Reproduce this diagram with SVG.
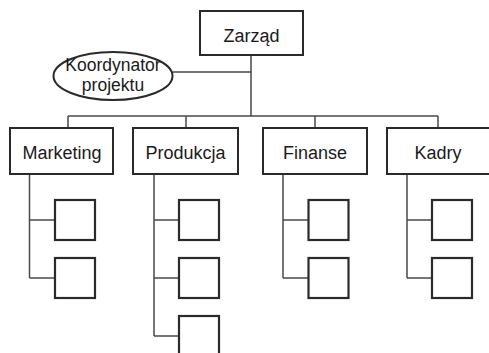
<svg xmlns="http://www.w3.org/2000/svg" width="489" height="353" viewBox="0 0 489 353">
<style>
.box{fill:#fff;stroke:#2a2a2a;stroke-width:2}
.sub{fill:#fff;stroke:#2a2a2a;stroke-width:2.2}
.ln{fill:none;stroke:#4a4a4a;stroke-width:1.5}
text{font-family:"Liberation Sans",Arial,sans-serif;font-size:18px;fill:#1a1a1a;text-anchor:middle}
.el{font-size:17.5px}
</style>
<rect width="489" height="353" fill="#fff"/>
<g id="connectors">
<path class="ln" d="M251 55V116M172.5 72H251M68 116H438M68 116V128M186 116V128M315 116V128M438 116V128"/>
<path class="ln" d="M29.5 174V278M29.5 220H55M29.5 278H55"/>
<path class="ln" d="M154 174V336M154 220H179M154 278H179M154 336H179"/>
<path class="ln" d="M283 174V278M283 220H308.5M283 278H308.5"/>
<path class="ln" d="M407 174V278M407 220H432M407 278H432"/>
</g>
<g id="zarzad"><rect class="box" x="200" y="11" width="103" height="44"/><text x="251.5" y="42">Zarząd</text></g>
<g id="koordynator"><ellipse class="box" cx="113" cy="76" rx="59.5" ry="24"/><text class="el" x="113" y="71">Koordynator</text><text class="el" x="113" y="91">projektu</text></g>
<g id="marketing"><rect class="box" x="10" y="128" width="103" height="46"/><text x="62" y="159">Marketing</text></g>
<g id="produkcja"><rect class="box" x="133" y="128" width="105" height="46"/><text x="185.5" y="159">Produkcja</text></g>
<g id="finanse"><rect class="box" x="263" y="128" width="104" height="46"/><text x="315" y="159">Finanse</text></g>
<g id="kadry"><rect class="box" x="387" y="128" width="104" height="46"/><text x="438" y="159">Kadry</text></g>
<g id="marketing-1"><rect class="sub" x="55" y="200" width="40" height="40"/></g>
<g id="marketing-2"><rect class="sub" x="55" y="258" width="40" height="40"/></g>
<g id="produkcja-1"><rect class="sub" x="179" y="200" width="40" height="40"/></g>
<g id="produkcja-2"><rect class="sub" x="179" y="258" width="40" height="40"/></g>
<g id="produkcja-3"><rect class="sub" x="179" y="316" width="40" height="40"/></g>
<g id="finanse-1"><rect class="sub" x="308.5" y="200" width="40" height="40"/></g>
<g id="finanse-2"><rect class="sub" x="308.5" y="258" width="40" height="40"/></g>
<g id="kadry-1"><rect class="sub" x="432" y="200" width="40" height="40"/></g>
<g id="kadry-2"><rect class="sub" x="432" y="258" width="40" height="40"/></g>
</svg>
